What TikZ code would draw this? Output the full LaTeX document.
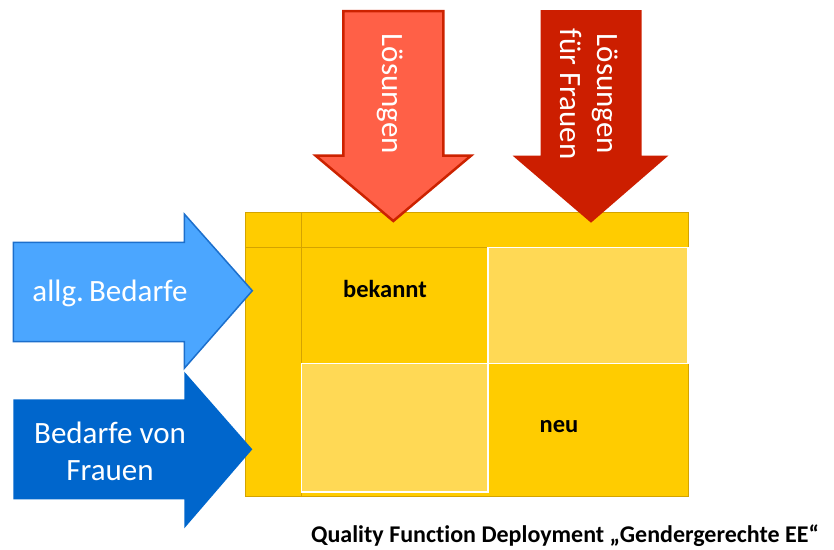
\documentclass[tikz,border=0pt]{standalone}
\usepackage{fontspec}
\setmainfont{Carlito}[Ligatures=NoCommon]
\definecolor{qyellow}{HTML}{FFCC00}
\definecolor{qlight}{HTML}{FFD955}
\definecolor{qborder}{HTML}{D4A300}
\definecolor{lblue}{HTML}{4BA6FF}
\definecolor{lblueb}{HTML}{1C6FCC}
\definecolor{dblue}{HTML}{0066CC}
\definecolor{lred}{HTML}{FF6047}
\definecolor{lredb}{HTML}{CC2200}
\definecolor{dred}{HTML}{CC1E00}
\tikzset{
  bigtxt/.style={text=white, font=\fontsize{31}{37}\selectfont, align=center, inner sep=0pt},
  celltxt/.style={text=black, font=\fontsize{24.5}{28}\selectfont\bfseries, inner sep=0pt},
}
\begin{document}
\begin{tikzpicture}[x=1pt,y=-1pt]
\useasboundingbox (0,0) rectangle (834,549);
% matrix
\draw[qborder, fill=qyellow, line width=1pt] (245.7,212.3) rectangle (688,496.7);
\draw[qborder, line width=1pt] (301.3,212.3) -- (301.3,496.7);
\draw[qborder, line width=1pt] (245.7,247.7) -- (688,247.7);
\draw[white, fill=qlight, line width=1.2pt] (488,247.7) rectangle (688,363.7);
\draw[white, fill=qlight, line width=1.2pt] (301.3,363.7) rectangle (488,492);
\node[celltxt] (bek) at (385,289) {bekannt};
\node[celltxt] (neu) at (559,427) {neu};
% blue arrows
\draw[lblueb, fill=lblue, line width=1.5pt, line join=miter]
  (13.3,242.3) -- (184.3,242.3) -- (184.3,214) -- (252.3,290.7) -- (184.3,368.3) -- (184.3,341.7) -- (13.3,341.7) -- cycle;
\node[bigtxt] (allg) at (110,293) {allg.\,Bedarfe};
\fill[dblue]
  (13.3,399.3) -- (184.3,399.3) -- (184.3,371.7) -- (252.3,449.3) -- (184.3,528.3) -- (184.3,499.3) -- (13.3,499.3) -- cycle;
\node[bigtxt] (frauen) at (110,451) {Bedarfe von\\Frauen};
% red arrows
\draw[lredb, fill=lred, line width=2.5pt, line join=miter]
  (343.3,11) -- (443.3,11) -- (443.3,155.7) -- (471,155.7) -- (393.3,221) -- (315.7,155.7) -- (343.3,155.7) -- cycle;
\node[bigtxt, rotate=-90] (loes) at (390,94) {Lösungen};
\fill[dred]
  (540.7,10) -- (641.7,10) -- (641.7,155.7) -- (668.3,155.7) -- (591,222.7) -- (512.7,155.7) -- (540.7,155.7) -- cycle;
\node[bigtxt, rotate=-90] (loesf) at (589,94) {Lösungen\\für Frauen};
% caption
\node[text=black, font=\fontsize{24}{28}\selectfont\bfseries, inner sep=0pt, anchor=base] (cap) at (565,542) {Quality Function Deployment „Gendergerechte EE“};
\end{tikzpicture}
\end{document}
